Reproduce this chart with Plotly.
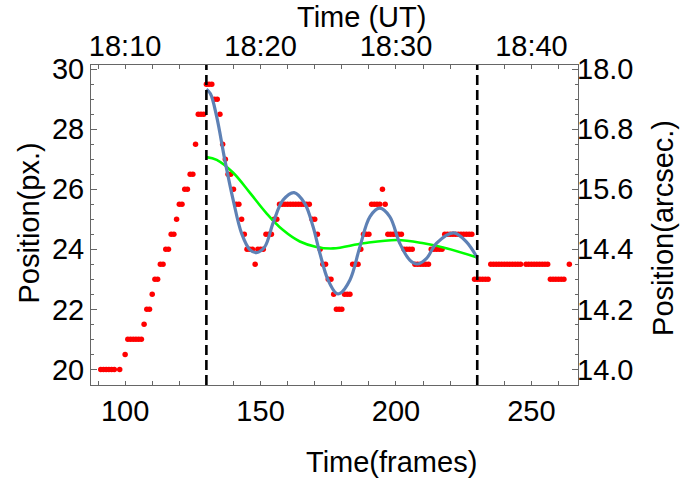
import plotly.graph_objects as go

# Measured loop-top position per frame (pixels)
frames = (
    [91, 92, 93, 94, 95, 96, 98, 100,
     101, 102, 103, 104, 105, 106, 107, 108, 109, 110,
     111, 112, 113, 114, 115, 116, 117, 118, 119, 120,
     121, 122, 123, 124, 125, 126, 127, 128, 129, 130,
     131, 132, 133, 134, 135, 136, 137, 138, 139, 140,
     141, 142, 143, 144, 145, 146, 147, 148, 149, 150,
     151, 152, 153, 154, 155, 156, 157, 158, 159, 160,
     161, 162, 163, 164, 165, 166, 167, 168, 169, 170,
     171, 172, 173, 174, 175, 176, 177, 178, 179, 180,
     181, 182, 183, 184, 185, 186, 187, 188, 189, 190,
     191, 192, 193, 194, 195, 196, 197, 198, 199, 200,
     201, 202, 203, 204, 205, 206, 207, 208, 209, 210,
     211, 212, 213, 214, 215, 216, 217, 218, 219, 220,
     221, 222, 223, 224, 225, 226, 227, 228, 229, 230,
     231, 232, 233, 234, 235, 236, 237, 238, 239, 240,
     241, 242, 243, 244, 245, 246, 248, 249, 250,
     251, 252, 253, 254, 255, 256, 257, 258, 259, 260,
     261, 262, 264]
)
position_px = (
    [20, 20, 20, 20, 20, 20, 20, 20.5,
     21, 21, 21, 21, 21, 21, 21.5, 22, 22, 22.5,
     23, 23, 23.5, 23.5, 24, 24, 24.5, 24.5, 25, 25.5,
     25.5, 26, 26, 26.5, 26.5, 27.5, 28.5, 28.5, 28.5, 29.5,
     29.5, 29.5, 29, 29, 28.5, 27.5, 27, 26.5, 26.5, 26,
     25.5, 25.5, 25, 24.5, 24, 24, 24, 23.5, 24, 24,
     24, 24.5, 24.5, 24.5, 25, 25, 25.5, 25.5, 25.5, 25.5,
     25.5, 25.5, 25.5, 25.5, 25.5, 25.5, 25.5, 25.5, 25, 25,
     24.5, 24, 23.5, 23.5, 23, 23, 22.5, 22, 22, 22,
     22.5, 22.5, 22.5, 23.5, 23.5, 23.5, 24, 24.5, 24.5, 24.5,
     25.5, 25.5, 25.5, 25.5, 26, 25.5, 24.5, 24.5, 24.5, 24.5,
     24.5, 24.5, 24, 24, 24, 24, 23.5, 23.5, 23.5, 23.5,
     23.5, 23.5, 24, 24, 24, 24, 24, 24.5, 24.5, 24.5,
     24.5, 24.5, 24.5, 24.5, 24.5, 24.5, 24.5, 24.5, 23, 23,
     23, 23, 23, 23, 23.5, 23.5, 23.5, 23.5, 23.5, 23.5,
     23.5, 23.5, 23.5, 23.5, 23.5, 23.5, 23.5, 23.5, 23.5,
     23.5, 23.5, 23.5, 23.5, 23.5, 23.5, 23, 23, 23, 23,
     23, 23, 23.5]
)

# Damped-oscillation fit (blue) sampled along the curve
osc_frames = [130, 131.5, 133.8, 136.8, 139.9, 143.0, 146.1, 148.5, 151.6,
              154.6, 158.3, 162.4, 166.3, 169.4, 171.9, 174.9, 178.0, 179.3,
              183.0, 186.7, 190.4, 194.0, 197.7, 201.4, 205.1, 207.8, 211.3,
              214.9, 221.3, 226.0, 230]
osc_fit = [29.33, 29.18, 28.42, 26.98, 25.64, 24.53, 23.98, 23.89, 24.09,
           24.87, 25.64, 25.89, 25.53, 24.75, 23.87, 22.98, 22.53, 22.53,
           22.98, 24.09, 25.09, 25.37, 25.09, 24.2, 23.64, 23.51, 23.7,
           24.2, 24.55, 24.25, 23.72]

# Overdamped trend (green)
trend_frames = [130, 133.8, 139.9, 146.1, 152.2, 158.3, 164.5, 170.6, 176.8,
                188.0, 200.4, 210.2, 218.9, 230]
trend_fit = [27.07, 26.98, 26.55, 25.88, 25.2, 24.64, 24.26, 24.08, 24.03,
             24.2, 24.31, 24.2, 24.03, 23.73]

# Event boundaries (frames)
markers_at = [130, 230]

# Axis ticks
frame_ticks = [100, 150, 200, 250]
ut_labels = ["18:10", "18:20", "18:30", "18:40"]
px_ticks = [20, 22, 24, 26, 28, 30]
arcsec_labels = ["14.0", "14.2", "14.4", "15.6", "16.8", "18.0"]

x_range = [87.4, 267.2]
y_range = [19.48, 30.14]

FONT = "Liberation Sans, Arial, sans-serif"
FRAME = "#666666"

fig = go.Figure()

fig.add_trace(go.Scatter(
    x=frames, y=position_px, mode="markers",
    marker=dict(color="#FF0000", size=5.5, line=dict(width=0)),
    showlegend=False))
fig.add_trace(go.Scatter(
    x=trend_frames, y=trend_fit, mode="lines",
    line=dict(color="#00FF00", width=2.6, shape="spline", smoothing=1.0),
    showlegend=False))
fig.add_trace(go.Scatter(
    x=osc_frames, y=osc_fit, mode="lines",
    line=dict(color="#5E81B5", width=3.2, shape="spline", smoothing=1.0),
    showlegend=False))
# invisible traces that carry the secondary axes
fig.add_trace(go.Scatter(x=[x_range[0]], y=[y_range[0]], xaxis="x2", yaxis="y2",
                         mode="markers", marker=dict(opacity=0),
                         showlegend=False, hoverinfo="skip"))

for xv in markers_at:
    fig.add_shape(type="line", x0=xv, x1=xv, xref="x", y0=0, y1=1, yref="paper",
                  line=dict(color="black", width=2.6, dash="10px,5px"))

tick_font = dict(family=FONT, size=29, color="black")

fig.update_layout(
    width=681, height=483,
    margin=dict(l=91, r=103, t=65, b=98),
    paper_bgcolor="white", plot_bgcolor="white",
    font=dict(family=FONT, color="black"),
    xaxis=dict(
        range=x_range, tickmode="array", tickvals=frame_ticks,
        ticks="inside", ticklen=4, tickcolor=FRAME, tickwidth=1,
        showline=True, linecolor=FRAME, linewidth=1, mirror="ticks",
        showgrid=False, zeroline=False, tickfont=tick_font,
        minor=dict(tickmode="linear", tick0=90, dtick=10, ticks="inside",
                   ticklen=4, tickcolor=FRAME, showgrid=False),
    ),
    xaxis2=dict(
        range=x_range, overlaying="x", side="top", tickmode="array",
        tickvals=frame_ticks, ticktext=ut_labels, ticks="",
        ticklabelstandoff=2,
        showline=False, showgrid=False, zeroline=False, tickfont=tick_font,
    ),
    yaxis=dict(
        range=y_range, tickmode="array", tickvals=px_ticks,
        ticks="inside", ticklen=6, tickcolor=FRAME, tickwidth=1,
        showline=True, linecolor=FRAME, linewidth=1, mirror="ticks",
        showgrid=False, zeroline=False, tickfont=tick_font,
        minor=dict(tickmode="linear", tick0=20, dtick=0.5, ticks="inside",
                   ticklen=3, tickcolor=FRAME, showgrid=False),
    ),
    yaxis2=dict(
        range=y_range, overlaying="y", side="right", tickmode="array",
        tickvals=px_ticks, ticktext=arcsec_labels, ticks="",
        ticklabelstandoff=-2,
        showline=False, showgrid=False, zeroline=False, tickfont=tick_font,
    ),
)

title_font = dict(family=FONT, size=29, color="black")
fig.add_annotation(text="Time(frames)", x=0.618, y=-0.24, xref="paper", yref="paper",
                   xanchor="center", yanchor="middle", showarrow=False, font=title_font)
fig.add_annotation(text="Time (UT)", x=0.556, y=1.15, xref="paper", yref="paper",
                   xanchor="center", yanchor="middle", showarrow=False, font=title_font)
fig.add_annotation(text="Position(px.)", x=-0.127, y=0.505, xref="paper", yref="paper",
                   xanchor="center", yanchor="middle", textangle=-90,
                   showarrow=False, font=title_font)
fig.add_annotation(text="Position(arcsec.)", x=1.174, y=0.49, xref="paper", yref="paper",
                   xanchor="center", yanchor="middle", textangle=-90,
                   showarrow=False, font=title_font)

fig.write_html("out.html")
